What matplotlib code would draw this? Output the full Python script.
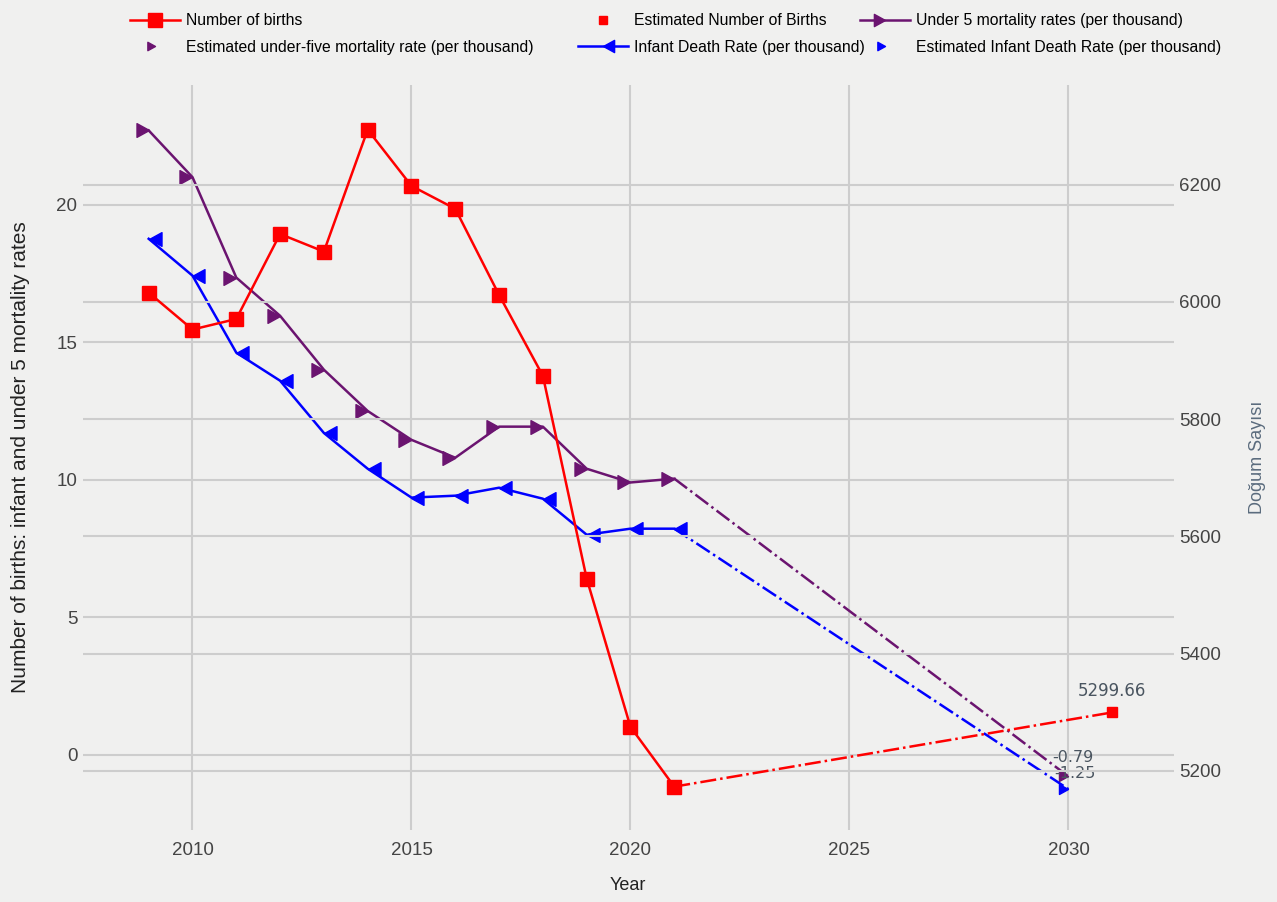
import matplotlib
matplotlib.use('Agg')
import matplotlib.pyplot as plt
from matplotlib.lines import Line2D
from matplotlib.path import Path

# data
years = [2009, 2010, 2011, 2012, 2013, 2014, 2015, 2016, 2017, 2018, 2019, 2020, 2021]
births = [6016, 5953, 5971, 6116, 6086, 6294, 6198, 6159, 6012, 5874, 5528, 5275, 5173]
under5 = [22.7, 21.0, 17.35, 15.96, 14.0, 12.5, 11.45, 10.8, 11.93, 11.93, 10.4, 9.9, 10.04]
infant = [18.76, 17.42, 14.62, 13.6, 11.7, 10.4, 9.35, 9.42, 9.71, 9.31, 8.0, 8.22, 8.22]

est_births_year = 2031
est_births = 5299.66
est_rate_year = 2030
est_under5 = -0.79
est_infant = -1.25

RED = '#ff0000'
PURPLE = '#6b1470'
BLUE = '#0000ff'
BG = '#f0f0ef'
GRID = '#cdcdcd'
TXT = '#444444'

# triangles with their tip on the data point (like the original)
tri_right = Path([(0, 0), (-1, 0.55), (-1, -0.55), (0, 0)], closed=True)
tri_left = Path([(0, 0), (1, 0.55), (1, -0.55), (0, 0)], closed=True)

plt.rcParams['font.family'] = ['Liberation Sans', 'DejaVu Sans']

fig = plt.figure(figsize=(12.77, 9.02), dpi=100, facecolor=BG)
ax = fig.add_axes([0.065, 0.08, 0.854, 0.826])
ax.set_facecolor(BG)
ax2 = ax.twinx()

# left axis: mortality rates
ax.plot(years, under5, color=PURPLE, lw=1.8, marker=tri_right, ms=18, zorder=3)
ax.plot([years[-1], est_rate_year], [under5[-1], est_under5], color=PURPLE, lw=1.8, ls='-.', zorder=3)
ax.plot([est_rate_year], [est_under5], color=PURPLE, marker=tri_right, ms=13, ls='none', zorder=3)

ax.plot(years, infant, color=BLUE, lw=1.8, marker=tri_left, ms=18, zorder=3)
ax.plot([years[-1], est_rate_year], [infant[-1], est_infant], color=BLUE, lw=1.8, ls='-.', zorder=3)
ax.plot([est_rate_year], [est_infant], color=BLUE, marker=tri_right, ms=13, ls='none', zorder=3)

# right axis: births
ax2.plot(years, births, color=RED, lw=1.8, marker='s', ms=9.5, zorder=3)
ax2.plot([years[-1], est_births_year], [births[-1], est_births], color=RED, lw=1.8, ls='-.', zorder=3)
ax2.plot([est_births_year], [est_births], color=RED, marker='s', ms=7, ls='none', zorder=3)

ax.annotate(f'{est_under5:.2f}', (est_rate_year, est_under5), xytext=(4, 11),
            textcoords='offset pixels', ha='center', va='bottom', fontsize=11.5,
            color='#4a5560', family='DejaVu Sans')
ax.annotate(f'{est_infant:.2f}', (est_rate_year, est_infant), xytext=(6, 16),
            textcoords='offset pixels', ha='center', va='center', fontsize=11.5,
            color='#4a5560', family='DejaVu Sans')
ax2.annotate(f'{est_births:.2f}', (est_births_year, est_births), xytext=(0, 12),
             textcoords='offset pixels', ha='center', va='bottom', fontsize=12,
             color='#4a5560', family='DejaVu Sans')

ax.set_xlim(2007.5, 2032.4)
ax.set_ylim(-2.73, 24.36)
ax2.set_ylim(5099.3, 6370.6)
ax.set_xticks([2010, 2015, 2020, 2025, 2030])
ax.set_yticks([0, 5, 10, 15, 20])
ax2.set_yticks([5200, 5400, 5600, 5800, 6000, 6200])

for a in (ax, ax2):
    for s in a.spines.values():
        s.set_visible(False)
    a.tick_params(length=0, labelsize=13.5, labelcolor=TXT, pad=4)
    a.set_axisbelow(True)
ax.grid(True, color=GRID, lw=1.5)
ax2.grid(True, axis='y', color=GRID, lw=1.5)
ax.tick_params(axis='x', pad=9)

ax.set_xlabel('Year', fontsize=13, color='#222222', labelpad=13)
ax.set_ylabel('Number of births: infant and under 5 mortality rates', fontsize=15,
              color='#222222', labelpad=19)
ax2.set_ylabel('Doğum Sayısı', fontsize=13, color='#5a6b7d', labelpad=20)

# legend: one small legend per column, placed like the original
h_births = Line2D([], [], color=RED, lw=1.8, marker='s', ms=9.5)
h_est_births = Line2D([], [], color=RED, marker='s', ms=6, ls='none')
h_u5 = Line2D([], [], color=PURPLE, lw=1.8, marker=tri_right, ms=16)
h_est_u5 = Line2D([], [], color=PURPLE, marker=tri_right, ms=11, ls='none')
h_inf = Line2D([], [], color=BLUE, lw=1.8, marker=tri_left, ms=16)
h_est_inf = Line2D([], [], color=BLUE, marker=tri_right, ms=11, ls='none')

columns = [
    (130, [h_births, h_est_u5],
     ['Number of births', 'Estimated under-five mortality rate (per thousand)']),
    (578, [h_est_births, h_inf],
     ['Estimated Number of Births', 'Infant Death Rate (per thousand)']),
    (860, [h_u5, h_est_inf],
     ['Under 5 mortality rates (per thousand)', 'Estimated Infant Death Rate (per thousand)']),
]
for x0, hs, ls_ in columns:
    leg = fig.legend(hs, ls_, loc='upper left', bbox_to_anchor=(x0 / 1277, 1 - 13 / 902),
                     frameon=False, fontsize=11.3, handlelength=3.2, handletextpad=0.4,
                     labelspacing=0.75, borderpad=0, borderaxespad=0)

fig.savefig('out.png', dpi=100, facecolor=BG)
